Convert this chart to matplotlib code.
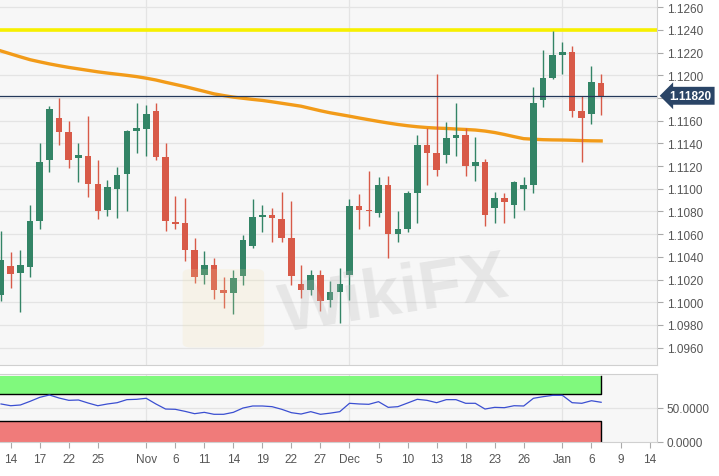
import matplotlib
matplotlib.use("Agg")
import matplotlib.pyplot as plt
import numpy as np
import pandas as pd
from matplotlib.patches import FancyBboxPatch

plt.rcParams["font.family"] = ["Liberation Sans", "DejaVu Sans"]

# daily EUR/USD candles, 11 Oct 2019 .. 7 Jan 2020 (weekdays)
opens = [1.1006, 1.1032, 1.1026, 1.1031, 1.1072, 1.1125, 1.1162, 1.1150, 1.1127, 1.1129,
         1.1104, 1.1081, 1.1100, 1.1113, 1.1151, 1.1153, 1.1169, 1.1128, 1.1071, 1.1070,
         1.1046, 1.1024, 1.1033, 1.1011, 1.1008, 1.1023, 1.1050, 1.1075, 1.1077, 1.1073,
         1.1057, 1.1016, 1.1011, 1.1024, 1.1002, 1.1009, 1.1024, 1.1085, 1.1081, 1.1079,
         1.1103, 1.1060, 1.1065, 1.1096, 1.1139, 1.1132, 1.1130, 1.1145, 1.1147, 1.1120,
         1.1124, 1.1083, 1.1092, 1.1086, 1.1100, 1.1103, 1.1178, 1.1198, 1.1218, 1.1221,
         1.1169, 1.1166, 1.1193]
highs = [1.1063, 1.1044, 1.1046, 1.1086, 1.1140, 1.1173, 1.1180, 1.1160, 1.1140, 1.1164,
         1.1125, 1.1108, 1.1119, 1.1152, 1.1176, 1.1174, 1.1176, 1.1140, 1.1094, 1.1092,
         1.1057, 1.1045, 1.1039, 1.1022, 1.1028, 1.1059, 1.1091, 1.1086, 1.1083, 1.1097,
         1.1089, 1.1033, 1.1028, 1.1028, 1.1019, 1.1030, 1.1091, 1.1095, 1.1116, 1.1110,
         1.1111, 1.1080, 1.1098, 1.1147, 1.1154, 1.1201, 1.1159, 1.1176, 1.1154, 1.1146,
         1.1126, 1.1097, 1.1096, 1.1107, 1.1110, 1.1190, 1.1222, 1.1239, 1.1229, 1.1226,
         1.1182, 1.1208, 1.1201]
lows = [1.1001, 1.1013, 1.0991, 1.1022, 1.1065, 1.1115, 1.1139, 1.1118, 1.1106, 1.1093,
        1.1073, 1.1076, 1.1074, 1.1080, 1.1132, 1.1129, 1.1125, 1.1063, 1.1065, 1.1036,
        1.1017, 1.1016, 1.1003, 1.0995, 1.0990, 1.1015, 1.1048, 1.1062, 1.1053, 1.1053,
        1.1015, 1.1004, 1.1006, 1.0992, 1.0996, 1.0982, 1.1002, 1.1065, 1.1067, 1.1075,
        1.1039, 1.1053, 1.1062, 1.1070, 1.1103, 1.1111, 1.1123, 1.1129, 1.1111, 1.1107,
        1.1067, 1.1070, 1.1070, 1.1074, 1.1081, 1.1096, 1.1172, 1.1197, 1.1201, 1.1163,
        1.1124, 1.1157, 1.1165]
closes = [1.1037, 1.1025, 1.1033, 1.1072, 1.1124, 1.1170, 1.1150, 1.1125, 1.1130, 1.1104,
          1.1080, 1.1102, 1.1112, 1.1151, 1.1154, 1.1166, 1.1128, 1.1072, 1.1069, 1.1046,
          1.1022, 1.1033, 1.1011, 1.1008, 1.1021, 1.1055, 1.1075, 1.1077, 1.1074, 1.1057,
          1.1023, 1.1011, 1.1024, 1.1001, 1.1009, 1.1016, 1.1085, 1.1081, 1.1080, 1.1103,
          1.1060, 1.1065, 1.1096, 1.1139, 1.1132, 1.1117, 1.1145, 1.1147, 1.1120, 1.1124,
          1.1077, 1.1092, 1.1088, 1.1106, 1.1103, 1.1176, 1.1198, 1.1218, 1.1221, 1.1169,
          1.1162, 1.1194, 1.1182]
ma200 = [1.12215, 1.12189, 1.12163, 1.12138, 1.12119, 1.12101, 1.12085, 1.12070, 1.12057, 1.12044,
         1.12031, 1.12020, 1.12010, 1.12000, 1.11989, 1.11975, 1.11959, 1.11939, 1.11920, 1.11901,
         1.11880, 1.11859, 1.11837, 1.11822, 1.11808, 1.11798, 1.11788, 1.11779, 1.11767, 1.11754,
         1.11741, 1.11728, 1.11708, 1.11688, 1.11670, 1.11655, 1.11640, 1.11624, 1.11609, 1.11594,
         1.11580, 1.11567, 1.11556, 1.11547, 1.11540, 1.11535, 1.11532, 1.11527, 1.11523, 1.11518,
         1.11509, 1.11496, 1.11479, 1.11460, 1.11442, 1.11437, 1.11433, 1.11431, 1.11430, 1.11428,
         1.11425, 1.11423, 1.11422]
rsi = [55.6, 53.0, 54.1, 59.5, 65.4, 68.9, 64.4, 61.0, 61.5, 57.0,
       53.0, 55.6, 57.5, 62.0, 62.5, 64.0, 55.6, 48.1, 47.7, 44.7,
       41.2, 43.2, 40.3, 40.3, 43.2, 49.6, 52.6, 52.6, 51.6, 47.7,
       42.7, 40.7, 44.2, 40.3, 42.0, 44.2, 56.6, 55.6, 55.1, 59.0,
       50.6, 51.6, 57.0, 62.5, 61.0, 57.5, 62.0, 62.0, 56.6, 56.6,
       48.1, 50.6, 50.1, 53.0, 52.6, 64.0, 66.4, 68.4, 68.4, 57.5,
       56.6, 60.4, 58.1]

resistance = 1.1240
last_price = 1.11820

price_ticks = [1.0960, 1.0980, 1.1000, 1.1020, 1.1040, 1.1060, 1.1080, 1.1100,
               1.1120, 1.1140, 1.1160, 1.1180, 1.1200, 1.1220, 1.1240, 1.1260]
tick_dates = ["2019-10-14", "2019-10-17", "2019-10-22", "2019-10-25", "2019-11-01",
              "2019-11-06", "2019-11-11", "2019-11-14", "2019-11-19", "2019-11-22",
              "2019-11-27", "2019-12-02", "2019-12-05", "2019-12-10", "2019-12-13",
              "2019-12-18", "2019-12-23", "2019-12-26", "2020-01-01", "2020-01-06",
              "2020-01-09", "2020-01-14"]
tick_labels = ["14", "17", "22", "25", "Nov", "6", "11", "14", "19", "22", "27",
               "Dec", "5", "10", "13", "18", "23", "26", "Jan", "6", "9", "14"]
month_dates = ["2019-11-01", "2019-12-02", "2020-01-01"]

GREEN = "#338466"
RED = "#d85a48"
GRID = "#e4e4e4"
BG = "#f7f7f7"
TXT = "#555555"

days = pd.bdate_range("2019-10-11", "2020-01-14")
x = np.arange(len(opens))
tick_pos = [days.get_loc(pd.Timestamp(d)) for d in tick_dates]
month_pos = [days.get_loc(pd.Timestamp(d)) for d in month_dates]

fig = plt.figure(figsize=(7.19, 4.77), dpi=100)
fig.patch.set_facecolor("white")
ax = fig.add_axes([0, 1 - 366 / 477, 657 / 719, 366 / 477])
ax2 = fig.add_axes([0, 1 - 442.5 / 477, 657 / 719, 67.5 / 477])

for a in (ax, ax2):
    a.set_facecolor(BG)
    a.set_xlim(-0.105, 67.77)
    for s in ("top", "left"):
        a.spines[s].set_visible(False)
    for s in ("bottom", "right"):
        a.spines[s].set_color("#d0d0d0")
    for m in month_pos:
        a.axvline(m, color=GRID, lw=0.9, zorder=0)
ax2.spines["top"].set_visible(True)
ax2.spines["top"].set_color("#d0d0d0")

# main panel
ax.set_ylim(1.09447, 1.12673)
ax.set_yticks(price_ticks)
# the last-price tag sits on top of the 1.1180 label, so leave that one blank
ax.set_yticklabels(["" if abs(t - last_price) < 0.0005 else f"{t:.4f}" for t in price_ticks])
ax.yaxis.tick_right()
ax.grid(axis="y", color=GRID, lw=0.9)
ax.set_axisbelow(True)
ax.tick_params(axis="y", length=4, color="#aaaaaa", labelcolor=TXT, labelsize=8.5, pad=3)
ax.tick_params(axis="x", bottom=False, labelbottom=False)

ax.axhline(resistance, color="#f7f000", lw=2.6, zorder=2)
ax.plot(x, ma200, color="#f29b19", lw=2.4, zorder=3)

for i in x:
    o, h, l, c = opens[i], highs[i], lows[i], closes[i]
    col = GREEN if c >= o else RED
    ax.vlines(i, l, h, color=col, lw=1.0, zorder=4)
    ax.bar(i, max(abs(c - o), 0.00004), bottom=min(o, c), width=0.68,
           color=col, zorder=5)

ax.axhline(last_price, color="#24395a", lw=0.9, zorder=6)
ax.annotate(f"{last_price:.5f}", xy=(1, last_price), xycoords=("axes fraction", "data"),
            xytext=(9, 0), textcoords="offset points", ha="left", va="center",
            color="white", fontsize=8.5, fontweight="bold", annotation_clip=False,
            bbox=dict(boxstyle="larrow,pad=0.25", fc="#2a4466", ec="none"))

# watermark
ax.text(0.6, 0.19, "WikiFX", transform=ax.transAxes, fontsize=50, fontweight="bold",
        color="#bbbbbb", alpha=0.28, rotation=9, ha="center", va="center", zorder=7)
ax.add_patch(FancyBboxPatch((0.29, 0.06), 0.10, 0.19, boxstyle="round,pad=0.012",
                            transform=ax.transAxes, fc="#f3dfa6", ec="none",
                            alpha=0.18, zorder=7))

# RSI panel
ax2.set_ylim(0, 100)
last = x[-1]
ax2.fill_between([-1, last], 70, 97.5, color="#80f97d", lw=0, zorder=1)
ax2.fill_between([-1, last], 0, 30, color="#f07b7a", lw=0, zorder=1)
ax2.plot([-1, last, last], [70, 70, 97.5], color="black", lw=1, zorder=2)
ax2.plot([-1, last, last], [30, 30, 0], color="black", lw=1, zorder=2)
ax2.axhline(50, color=GRID, lw=0.9, zorder=0)
ax2.plot(x, rsi, color="#3b4fd1", lw=0.9, zorder=3)
ax2.yaxis.tick_right()
ax2.set_yticks([0, 50])
ax2.set_yticklabels(["0.0000", "50.0000"])
ax2.tick_params(axis="y", length=4, color="#aaaaaa", labelcolor=TXT, labelsize=8.5, pad=3)
ax2.set_xticks(tick_pos)
ax2.set_xticklabels(tick_labels)
ax2.tick_params(axis="x", length=4, color="#aaaaaa", labelcolor=TXT, labelsize=8.5, pad=4)

fig.savefig("out.png", dpi=100, facecolor="white")
